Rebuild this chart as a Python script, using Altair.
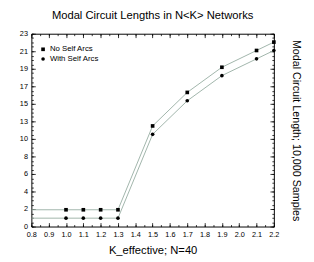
import altair as alt
import pandas as pd

# ---- data ----
k_eff = [0.8, 1.0, 1.1, 1.2, 1.3, 1.5, 1.7, 1.9, 2.1, 2.2]
no_self_arcs = [2, 2, 2, 2, 2, 12, 16, 19, 21, 22]
with_self_arcs = [1, 1, 1, 1, 1, 11, 15, 18, 20, 21]
series_names = ["No Self Arcs", "With Self Arcs"]

x_ticks = [0.8, 0.9, 1.0, 1.1, 1.2, 1.3, 1.4, 1.5, 1.6, 1.7, 1.8, 1.9, 2.0, 2.1, 2.2]
x_minor = [0.8 + 0.05 * i for i in range(29)]
y_max = 23
y_ticks = [y_max * i / 11 for i in range(12)]
y_minor = [y_max * i / 44 for i in range(45)]

rows = []
for k, a, b in zip(k_eff, no_self_arcs, with_self_arcs):
    rows.append({"k": k, "len": a, "series": series_names[0]})
    rows.append({"k": k, "len": b, "series": series_names[1]})
df = pd.DataFrame(rows)

W, H = 249, 198
FONT = "Liberation Sans"

xs = alt.Scale(domain=[0.8, 2.2], nice=False, zero=False)
ys = alt.Scale(domain=[0, y_max], nice=False, zero=False)


def X(axis):
    return alt.X("k:Q", scale=xs, axis=axis)


def Y(axis):
    return alt.Y("len:Q", scale=ys, axis=axis)


def tick_axis(orient, offset, values, size, domain=False):
    return alt.Axis(orient=orient, offset=offset, values=values, tickSize=size,
                    labels=False, domain=domain, grid=False, title=None,
                    tickColor="black", domainColor="black", tickWidth=0.8)


base = alt.Chart(df)

lines = base.mark_line(color="#9fb4aa", strokeWidth=1, clip=True).encode(
    x=X(alt.Axis(orient="bottom", values=x_ticks, format=".1f", ticks=False, tickSize=0,
                 labelPadding=4, labelFontSize=7.5, labelFont=FONT, domainColor="black",
                 labelOverlap=False, labelFlush=False,
                 title="K_effective; N=40", titleFontSize=11.5, titleFont=FONT,
                 titleFontWeight="normal", titlePadding=7, grid=False, labelColor="black",
                 titleColor="black")),
    y=Y(alt.Axis(orient="left", values=y_ticks, format=".0f", ticks=False, tickSize=0,
                 labelPadding=4, labelFontSize=7.5, labelFont=FONT, domainColor="black",
                 labelOverlap=False, labelFlush=False,
                 title=None, grid=False, labelColor="black")),
    detail="series:N",
)

points = base.mark_point(filled=True, color="black", opacity=1, size=14).encode(
    x=X(tick_axis("top", -H, x_ticks, 4)),
    y=Y(tick_axis("right", -W, y_ticks, 4)),
    shape=alt.Shape("series:N",
                    scale=alt.Scale(domain=series_names, range=["square", "circle"]),
                    legend=alt.Legend(orient="none", legendX=8, legendY=12, title=None,
                                      labelFontSize=8, labelFont=FONT, labelColor="black",
                                      symbolSize=14, symbolFillColor="black",
                                      symbolStrokeColor="black", symbolStrokeWidth=0,
                                      rowPadding=2, labelOffset=3)),
).transform_filter("datum.k > 0.85")

d1 = base.mark_point(opacity=0).encode(
    x=X(tick_axis("top", -H, x_minor, 2)),
    y=Y(tick_axis("right", -W, y_minor, 2)),
)
d2 = base.mark_point(opacity=0).encode(
    x=X(tick_axis("bottom", -H, x_ticks, 4, domain=True)),
    y=Y(tick_axis("left", -W, y_ticks, 4, domain=True)),
)
d3 = base.mark_point(opacity=0).encode(
    x=X(tick_axis("bottom", -H, x_minor, 2)),
    y=Y(tick_axis("left", -W, y_minor, 2)),
)
d4 = base.mark_point(opacity=0).encode(
    x=X(None),
    y=Y(alt.Axis(orient="right", ticks=False, labels=False, domain=False, grid=False,
                 title="Modal Circuit Length; 10,000 Samples", titleFontSize=11,
                 titleFont=FONT, titleFontWeight="normal", titlePadding=17,
                 titleColor="black")),
)

chart = alt.layer(lines, points, d1, d2, d3, d4).resolve_axis(
    x="independent", y="independent"
).properties(
    width=W, height=H,
    title=alt.TitleParams("Modal Circuit Lengths in N<K> Networks", fontSize=11.5,
                          font=FONT, fontWeight="normal", anchor="middle", offset=9,
                          color="black"),
    padding={"left": 24, "top": 23, "right": 33, "bottom": 33},
    autosize="none",
).configure_view(stroke=None)

chart.save("out.html", embed_options={"renderer": "svg", "actions": False})
